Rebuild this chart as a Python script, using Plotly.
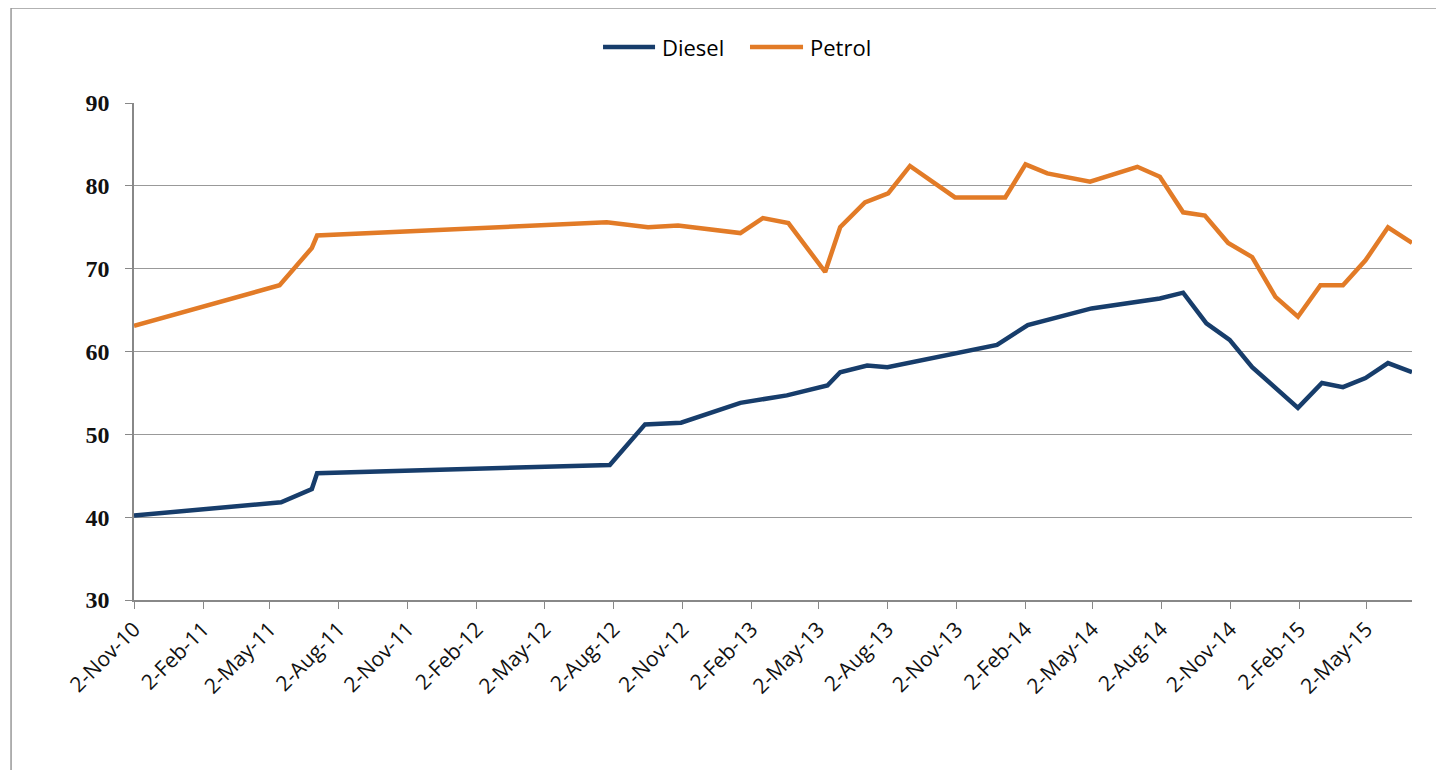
import plotly.graph_objects as go

petrol_dates = ["2010-11-02", "2011-05-15", "2011-06-27", "2011-07-04", "2012-07-24",
                "2012-09-17", "2012-10-27", "2013-01-18", "2013-02-17", "2013-03-23",
                "2013-05-11", "2013-05-31", "2013-07-03", "2013-08-03", "2013-09-01",
                "2013-10-31", "2014-01-06", "2014-02-02", "2014-03-03", "2014-04-29",
                "2014-07-01", "2014-07-31", "2014-08-31", "2014-09-29", "2014-10-30",
                "2014-12-01", "2015-01-01", "2015-01-31", "2015-03-02", "2015-04-01",
                "2015-05-01", "2015-05-31", "2015-07-02"]
petrol_values = [63.1, 68.0, 72.5, 74.0, 75.6,
                 75.0, 75.2, 74.3, 76.1, 75.5,
                 69.6, 75.0, 78.0, 79.1, 82.4,
                 78.6, 78.6, 82.6, 81.5, 80.5,
                 82.3, 81.1, 76.8, 76.4, 73.1,
                 71.4, 66.6, 64.2, 68.0, 68.0,
                 71.0, 75.0, 73.1]

diesel_dates = ["2010-11-02", "2011-05-17", "2011-06-27", "2011-07-04", "2012-07-28",
                "2012-09-13", "2012-10-31", "2013-01-18", "2013-03-21", "2013-05-14",
                "2013-05-31", "2013-07-06", "2013-08-02", "2013-12-26", "2014-02-05",
                "2014-05-01", "2014-07-31", "2014-08-31", "2014-10-01", "2014-11-01",
                "2014-12-01", "2015-01-31", "2015-03-04", "2015-04-01", "2015-05-01",
                "2015-05-31", "2015-07-02"]
diesel_values = [40.2, 41.8, 43.4, 45.3, 46.3,
                 51.2, 51.4, 53.8, 54.7, 55.9,
                 57.5, 58.3, 58.1, 60.8, 63.2,
                 65.2, 66.4, 67.1, 63.4, 61.4,
                 58.1, 53.2, 56.2, 55.7, 56.8,
                 58.6, 57.5]

tick_dates = ["2010-11-02", "2011-02-02", "2011-05-02", "2011-08-02", "2011-11-02",
              "2012-02-02", "2012-05-02", "2012-08-02", "2012-11-02", "2013-02-02",
              "2013-05-02", "2013-08-02", "2013-11-02", "2014-02-02", "2014-05-02",
              "2014-08-02", "2014-11-02", "2015-02-02", "2015-05-02"]
tick_labels = ["2-Nov-10", "2-Feb-11", "2-May-11", "2-Aug-11", "2-Nov-11",
               "2-Feb-12", "2-May-12", "2-Aug-12", "2-Nov-12", "2-Feb-13",
               "2-May-13", "2-Aug-13", "2-Nov-13", "2-Feb-14", "2-May-14",
               "2-Aug-14", "2-Nov-14", "2-Feb-15", "2-May-15"]
y_ticks = [30, 40, 50, 60, 70, 80, 90]

series_names = ["Diesel", "Petrol"]
series_colors = ["#173D6B", "#E27B27"]

fig = go.Figure()
fig.add_trace(go.Scatter(x=diesel_dates, y=diesel_values, mode="lines", name=series_names[0],
                         line=dict(color=series_colors[0], width=4.5)))
fig.add_trace(go.Scatter(x=petrol_dates, y=petrol_values, mode="lines", name=series_names[1],
                         line=dict(color=series_colors[1], width=4.5)))

# manual legend (line sample + label), in paper coordinates
legend_y = 1.1127
legend_slots = [(0.367, 0.4077, 0.4116), (0.482, 0.5235, 0.5274)]
shapes = [dict(type="rect", xref="paper", yref="paper",
               x0=-0.0962, x1=1.1, y0=-0.5, y1=1.1911,
               line=dict(color="#999999", width=1.5), fillcolor="rgba(0,0,0,0)",
               layer="below")]
annotations = []
for name, color, (lx0, lx1, tx) in zip(series_names, series_colors, legend_slots):
    shapes.append(dict(type="line", xref="paper", yref="paper",
                       x0=lx0, x1=lx1, y0=legend_y, y1=legend_y,
                       line=dict(color=color, width=4.5)))
    annotations.append(dict(xref="paper", yref="paper", x=tx, y=legend_y,
                            xanchor="left", yanchor="middle", showarrow=False,
                            text=name,
                            font=dict(family="Open Sans", size=22, color="#000000")))

fig.update_layout(
    width=1444, height=770,
    margin=dict(l=126, r=40, t=95, b=178),
    paper_bgcolor="white", plot_bgcolor="white",
    showlegend=False,
    xaxis=dict(type="date", range=["2010-11-02", "2015-07-02"],
               tickmode="array", tickvals=tick_dates, ticktext=tick_labels,
               tickangle=-45, ticks="outside", ticklen=7, tickcolor="#888888",
               showline=True, linecolor="#888888", linewidth=1.5,
               showgrid=False, zeroline=False,
               tickfont=dict(family="Open Sans", size=21, color="#111111")),
    yaxis=dict(range=[30, 90], tickmode="array", tickvals=y_ticks,
               ticks="outside", ticklen=7, tickcolor="#888888",
               showline=True, linecolor="#888888", linewidth=1.5,
               showgrid=True, gridcolor="#999999", gridwidth=1.3, zeroline=False,
               tickfont=dict(family="Liberation Serif", size=24, color="#111111",
                             weight="bold"),
               ticklabelstandoff=11),
    shapes=shapes,
    annotations=annotations,
)

fig.write_html("out.html")
